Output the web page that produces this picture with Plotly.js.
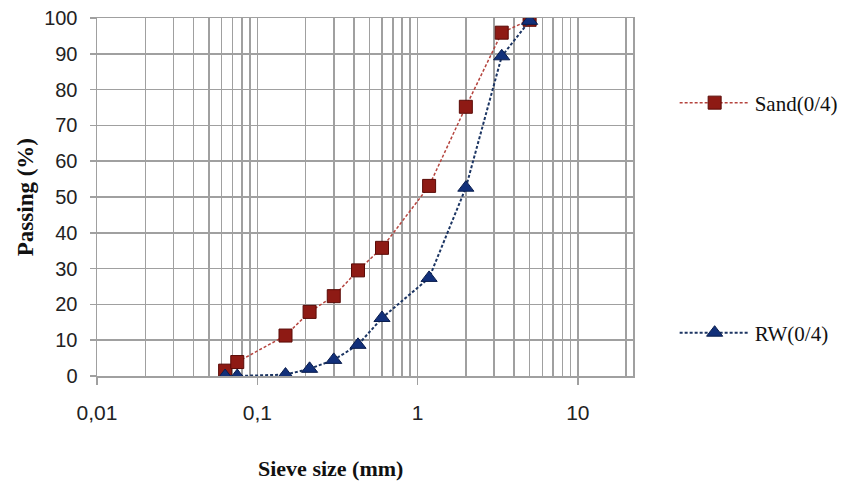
<!DOCTYPE html>
<html>
<head>
<meta charset="utf-8">
<script src="https://cdn.plot.ly/plotly-3.0.1.min.js"></script>
<style>html,body{margin:0;padding:0;background:#fff;}#chart{width:849px;height:484px;}</style>
</head>
<body>
<div id="chart"></div>
<script>
// Data
const sieveSizes = [0.063, 0.075, 0.15, 0.212, 0.3, 0.425, 0.6, 1.18, 2, 3.35, 5];
const sandPassing = [1.5, 3.9, 11.3, 17.9, 22.3, 29.5, 35.8, 53.1, 75.2, 95.9, 99.5];
const rwPassing = [0, 0, 0.4, 2.0, 4.5, 8.7, 16.2, 27.4, 52.6, 89.3, 99.2];
const seriesNames = ["Sand(0/4)", "RW(0/4)"];
const majorTickVals = [0.01, 0.1, 1, 10];
const majorTickText = ["0,01", "0,1", "1", "10"];
const minorTickVals = [0.02,0.03,0.04,0.05,0.06,0.07,0.08,0.09,
                       0.2,0.3,0.4,0.5,0.6,0.7,0.8,0.9,
                       2,3,4,5,6,7,8,9,20];

const grid = '#a0a0a0';

const traces = [
  {
    x: sieveSizes, y: sandPassing, name: seriesNames[0], type: 'scatter', mode: 'lines+markers',
    line: {color: '#b5443e', width: 1.5, dash: '3px,2px'},
    marker: {symbol: 'square', size: 13, color: '#8e1a14', line: {color: '#5a0a06', width: 1}},
    legend: 'legend'
  },
  {
    x: sieveSizes, y: rwPassing, name: seriesNames[1], type: 'scatter', mode: 'lines+markers',
    line: {color: '#1c3563', width: 2, dash: '3px,2px'},
    marker: {symbol: 'triangle-up', size: 14, color: '#12307a', line: {color: '#0a1d4d', width: 1}},
    legend: 'legend2'
  }
];

const legendFont = {family: 'Liberation Serif, Times New Roman, serif', size: 21, color: '#111'};

const layout = {
  width: 849, height: 484,
  margin: {l: 97, r: 216, t: 18, b: 108, autoexpand: false},
  paper_bgcolor: '#fff', plot_bgcolor: '#fff',
  showlegend: true,
  xaxis: {
    type: 'log', range: [-2, 1.344],
    tickmode: 'array', tickvals: majorTickVals, ticktext: majorTickText,
    ticks: 'outside', ticklen: 7, tickcolor: grid, tickwidth: 1.5,
    ticklabelstandoff: 10,
    showgrid: true, gridcolor: grid, gridwidth: 1.5,
    minor: {tickmode: 'array', tickvals: minorTickVals, ticks: '', showgrid: true, gridcolor: grid, gridwidth: 1.5},
    showline: true, linecolor: grid, linewidth: 1.5, mirror: true,
    zeroline: false,
    tickfont: {family: 'Liberation Sans, Arial, sans-serif', size: 21, color: '#222'}
  },
  yaxis: {
    range: [0, 100], tickmode: 'linear', tick0: 0, dtick: 10,
    ticks: 'outside', ticklen: 6, tickcolor: grid, tickwidth: 1.5,
    ticklabelstandoff: 8,
    showgrid: true, gridcolor: grid, gridwidth: 1.5,
    showline: true, linecolor: grid, linewidth: 1.5, mirror: true,
    zeroline: false,
    tickfont: {family: 'Liberation Sans, Arial, sans-serif', size: 20, color: '#222'}
  },
  legend: {
    x: 1.0777, xanchor: 'left', y: 0.7626, yanchor: 'middle', itemwidth: 70,
    bgcolor: 'rgba(0,0,0,0)', borderwidth: 0, font: legendFont
  },
  legend2: {
    x: 1.0777, xanchor: 'left', y: 0.12, yanchor: 'middle', itemwidth: 70,
    bgcolor: 'rgba(0,0,0,0)', borderwidth: 0, font: legendFont
  },
  annotations: [
    {text: '<b>Sieve size (mm)</b>', xref: 'paper', yref: 'paper', x: 0.435, y: -0.257,
     xanchor: 'center', yanchor: 'middle', showarrow: false,
     font: {family: 'Liberation Serif, Times New Roman, serif', size: 22, color: '#111'}},
    {text: '<b>Passing (%)</b>', xref: 'paper', yref: 'paper', x: -0.134, y: 0.5,
     xanchor: 'center', yanchor: 'middle', textangle: -90, showarrow: false,
     font: {family: 'Liberation Serif, Times New Roman, serif', size: 23, color: '#111'}}
  ]
};

Plotly.newPlot('chart', traces, layout, {displayModeBar: false, staticPlot: true});
</script>
</body>
</html>
